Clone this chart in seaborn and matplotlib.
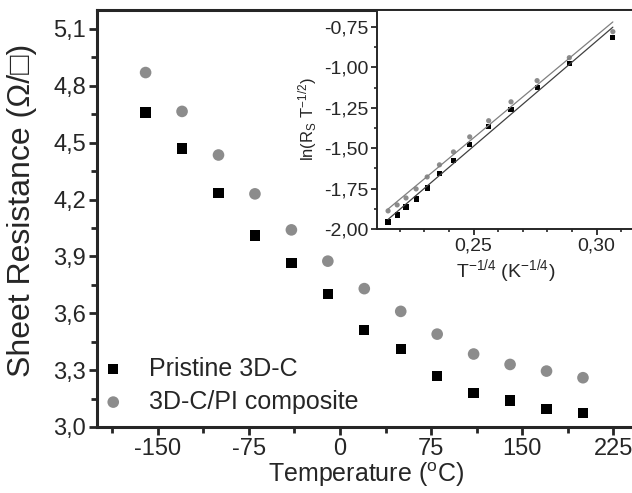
import pandas as pd
import matplotlib
matplotlib.use("Agg")
import matplotlib.pyplot as plt
from matplotlib.ticker import MultipleLocator, FuncFormatter
import seaborn as sns

# Main panel: sheet resistance vs temperature
temps = [-160, -130, -100, -70, -40, -10, 20, 50, 80, 110, 140, 170, 200]
r_pristine = [4.66, 4.47, 4.235, 4.01, 3.865, 3.70, 3.51, 3.41, 3.27, 3.18, 3.14, 3.095, 3.075]
r_composite = [4.87, 4.665, 4.435, 4.23, 4.04, 3.875, 3.73, 3.61, 3.49, 3.385, 3.33, 3.295, 3.26]

# Inset: ln(Rs T^-1/2) vs T^-1/4
t_quarter = [0.2152, 0.2189, 0.2225, 0.2266, 0.2311, 0.2361, 0.2418, 0.2484,
             0.2561, 0.2652, 0.2758, 0.2889, 0.3066]
ln_pristine = [-1.957, -1.913, -1.864, -1.814, -1.746, -1.659, -1.578, -1.479,
               -1.368, -1.262, -1.126, -0.977, -0.816]
ln_composite = [-1.888, -1.851, -1.808, -1.752, -1.678, -1.603, -1.523, -1.430,
                -1.330, -1.213, -1.082, -0.940, -0.779]

sns.set_style("ticks")
plt.rcParams['font.family'] = ['Liberation Sans', 'DejaVu Sans']
plt.rcParams['mathtext.fontset'] = 'custom'
plt.rcParams['mathtext.rm'] = 'Liberation Sans'
plt.rcParams['mathtext.it'] = 'Liberation Sans'

grey = "#8c8c8c"
W, H = 632, 493
fig = plt.figure(figsize=(W / 100, H / 100), dpi=100)

def rect(l, t, r, b):
    return [l / W, (H - b) / H, (r - l) / W, (b - t) / H]

comma = lambda fmt: FuncFormatter(lambda v, p: (fmt % v).replace(".", ","))

# ---- main axes
ax = fig.add_axes(rect(97, 10, 634, 427))
main_df = pd.DataFrame({"T": temps, "pristine": r_pristine, "composite": r_composite})
sns.scatterplot(data=main_df, x="T", y="pristine", ax=ax, marker="s", s=55,
                color="black", edgecolor="none", label="Pristine 3D-C")
sns.scatterplot(data=main_df, x="T", y="composite", ax=ax, marker="o", s=70,
                color=grey, edgecolor="none", label="3D-C/PI composite")
ax.set_xlim(-200, 242)
ax.set_ylim(3.0, 5.2)
ax.xaxis.set_major_locator(MultipleLocator(75))
ax.xaxis.set_minor_locator(MultipleLocator(37.5))
ax.yaxis.set_major_locator(MultipleLocator(0.3))
ax.yaxis.set_minor_locator(MultipleLocator(0.15))
ax.xaxis.set_major_formatter(comma("%.0f"))
ax.yaxis.set_major_formatter(comma("%.1f"))
ax.set_xticks([-150, -75, 0, 75, 150, 225])
ax.tick_params(which="major", length=6, width=2, labelsize=17, direction="out", pad=2)
ax.tick_params(which="minor", length=4, width=2, direction="out")
for sp in ax.spines.values():
    sp.set_linewidth(2.2)
ax.set_xlabel("Temperature ($^{o}$C)", fontsize=18, labelpad=0)
ax.set_ylabel("Sheet Resistance (\u03a9/\u25a1)", fontsize=23)
ax.yaxis.set_label_coords(-0.112, 0.52)
ax.legend(loc="lower left", bbox_to_anchor=(-0.007, 0.02), frameon=False, fontsize=18,
          handlelength=1.2, handletextpad=0.85, borderpad=0.2, borderaxespad=0,
          labelspacing=0.35)

# ---- inset axes
ins = fig.add_axes(rect(377, 10, 634, 229))
ins_df = pd.DataFrame({"x": t_quarter, "pristine": ln_pristine, "composite": ln_composite})
sns.regplot(data=ins_df, x="x", y="composite", ax=ins, ci=None, scatter=False,
            line_kws={"color": "#808080", "lw": 0.9})
sns.regplot(data=ins_df, x="x", y="pristine", ax=ins, ci=None, scatter=False,
            line_kws={"color": "#404040", "lw": 0.9})
sns.scatterplot(data=ins_df, x="x", y="composite", ax=ins, marker="o", s=14,
                color=grey, edgecolor="none")
sns.scatterplot(data=ins_df, x="x", y="pristine", ax=ins, marker="s", s=14,
                color="black", edgecolor="none")
ins.set_xlim(0.2107, 0.3152)
ins.set_ylim(-2.0, -0.645)
ins.xaxis.set_major_locator(MultipleLocator(0.05))
ins.xaxis.set_minor_locator(MultipleLocator(0.01))
ins.yaxis.set_major_locator(MultipleLocator(0.25))
ins.yaxis.set_minor_locator(MultipleLocator(0.125))
ins.xaxis.set_major_formatter(comma("%.2f"))
ins.yaxis.set_major_formatter(comma("%.2f"))
ins.tick_params(which="major", length=4, width=1.3, labelsize=14, direction="out", pad=2)
ins.tick_params(which="minor", length=2.5, width=1.2, direction="out")
for sp in ins.spines.values():
    sp.set_linewidth(1.4)
ins.set_xlabel("T$^{-1/4}$ (K$^{-1/4}$)", fontsize=14, labelpad=2)
ins.set_ylabel("ln(R$_{S}$ T$^{-1/2}$)", fontsize=12, labelpad=4)

fig.savefig("out.png", dpi=100)
